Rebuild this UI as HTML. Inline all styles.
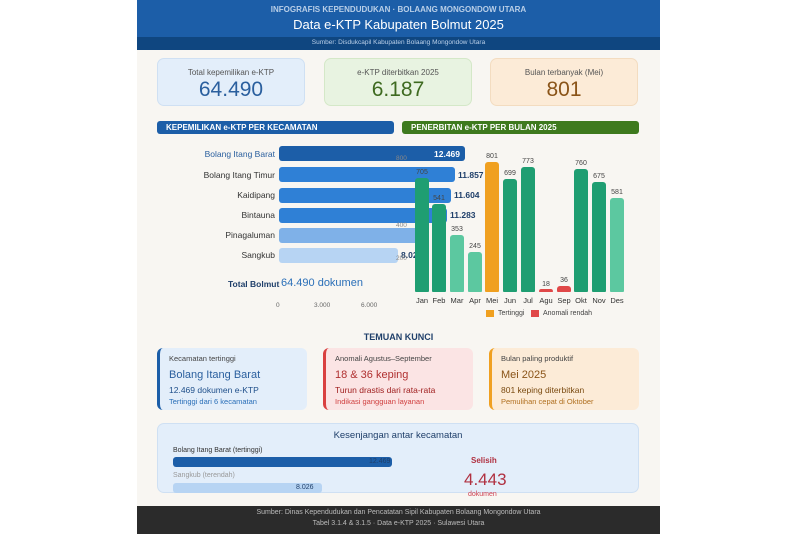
<!DOCTYPE html><html><head><meta charset="utf-8"><style>
*{margin:0;padding:0;box-sizing:border-box}
body{width:800px;height:534px;background:#fff;font-family:"Liberation Sans",sans-serif;position:relative;overflow:hidden}
.a{position:absolute}
.c{text-align:center}
.card{position:absolute;border-radius:7px;text-align:center}
.card .l{font-size:8px;color:#555;margin-top:9px}
.card .v{font-size:21px;margin-top:1px}
.lab{position:absolute;right:525px;font-size:8.5px;color:#333;text-align:right;white-space:nowrap}
.bar{position:absolute;left:279px;height:15px;border-radius:3px}
.val{position:absolute;font-size:8.5px;font-weight:bold;color:#1f3f6a}
.mb{position:absolute;width:14px;border-radius:3px 3px 1px 1px}
.mv{position:absolute;font-size:7px;color:#444;width:24px;text-align:center}
.ml{position:absolute;top:296px;font-size:7.5px;color:#333;width:24px;text-align:center}
.f{position:absolute;top:348px;height:62px;width:150px;border-radius:6px;padding:6px 0 0 9px;border-left:3px solid}
.f .t{font-size:7.5px;color:#444}
.f .b{font-size:11px;margin-top:6px}
.f .s{font-size:8.5px;margin-top:4px}
.f .x{font-size:7.5px;margin-top:2px}
</style></head><body>
<div class="a" style="left:137px;top:0;width:523px;height:534px;background:#f8f6f2"></div>
<div class="a" style="left:137px;top:0;width:523px;height:38px;background:#1c5ea8"></div>
<div class="a" style="left:137px;top:37px;width:523px;height:13px;background:#0f4680"></div>
<div class="a c" style="left:137px;top:5px;width:523px;font-size:8px;font-weight:bold;color:#b9cfe8">INFOGRAFIS KEPENDUDUKAN · BOLAANG MONGONDOW UTARA</div>
<div class="a c" style="left:137px;top:17px;width:523px;font-size:13px;color:#fff">Data e-KTP Kabupaten Bolmut 2025</div>
<div class="a c" style="left:137px;top:39px;width:523px;font-size:6.5px;color:#b9cfe8">Sumber: Disdukcapil Kabupaten Bolaang Mongondow Utara</div>

<div class="card" style="left:157px;top:58px;width:148px;height:48px;background:#e3eefa;border:1px solid #cfe0f3"><div class="l">Total kepemilikan e-KTP</div><div class="v" style="color:#2a5f9e">64.490</div></div>
<div class="card" style="left:324px;top:58px;width:148px;height:48px;background:#e8f3e1;border:1px solid #d4e8c8"><div class="l">e-KTP diterbitkan 2025</div><div class="v" style="color:#3e6a20">6.187</div></div>
<div class="card" style="left:490px;top:58px;width:148px;height:48px;background:#fcebd7;border:1px solid #f3dcc0"><div class="l">Bulan terbanyak (Mei)</div><div class="v" style="color:#8a5418">801</div></div>

<div class="a" style="left:157px;top:121px;width:237px;height:13px;background:#1c5ea8;border-radius:3px;color:#fff;font-size:8px;font-weight:bold;padding:2px 0 0 9px">KEPEMILIKAN e-KTP PER KECAMATAN</div>
<div class="a" style="left:402px;top:121px;width:237px;height:13px;background:#3e7a1e;border-radius:3px;color:#fff;font-size:8px;font-weight:bold;padding:2px 0 0 9px">PENERBITAN e-KTP PER BULAN 2025</div>

<div class="lab" style="top:149px;color:#2a5f9e">Bolang Itang Barat</div>
<div class="lab" style="top:170px">Bolang Itang Timur</div>
<div class="lab" style="top:190px">Kaidipang</div>
<div class="lab" style="top:210px">Bintauna</div>
<div class="lab" style="top:230px">Pinagaluman</div>
<div class="lab" style="top:250px">Sangkub</div>
<div class="bar" style="top:146px;width:186px;background:#1c5ea8"></div>
<div class="val" style="left:434px;top:149px;color:#fff">12.469</div>
<div class="bar" style="top:167px;width:176px;background:#2f80d6"></div>
<div class="val" style="left:458px;top:170px">11.857</div>
<div class="bar" style="top:188px;width:172px;background:#2f80d6"></div>
<div class="val" style="left:454px;top:190px">11.604</div>
<div class="bar" style="top:208px;width:168px;background:#2f80d6"></div>
<div class="val" style="left:450px;top:210px">11.283</div>
<div class="bar" style="top:228px;width:145px;background:#7fb1e8"></div>
<div class="bar" style="top:248px;width:119px;background:#b7d4f3"></div>
<div class="val" style="left:401px;top:250px">8.026</div>
<div class="a" style="left:228px;top:279px;font-size:8.5px;font-weight:bold;color:#1f3f6a">Total Bolmut</div>
<div class="a" style="left:281px;top:277px;font-size:11px;color:#2a6fb8">64.490 dokumen</div>
<div class="a" style="left:276px;top:302px;font-size:6.5px;color:#666">0</div>
<div class="a" style="left:314px;top:302px;font-size:6.5px;color:#666">3.000</div>
<div class="a" style="left:361px;top:302px;font-size:6.5px;color:#666">6.000</div>
<div class="a" style="left:396px;top:155px;font-size:6.5px;color:#888">800</div>
<div class="a" style="left:396px;top:222px;font-size:6.5px;color:#888">400</div>
<div class="a" style="left:396px;top:255px;font-size:6.5px;color:#888">200</div>

<div class="mb" style="left:415px;top:178px;height:114px;background:#1f9e72"></div><div class="mv" style="left:410px;top:169px">705</div>
<div class="mb" style="left:432px;top:204px;height:88px;background:#1f9e72"></div><div class="mv" style="left:427px;top:195px">541</div>
<div class="mb" style="left:450px;top:235px;height:57px;background:#5cc8a0"></div><div class="mv" style="left:445px;top:226px">353</div>
<div class="mb" style="left:468px;top:252px;height:40px;background:#5cc8a0"></div><div class="mv" style="left:463px;top:243px">245</div>
<div class="mb" style="left:485px;top:162px;height:130px;background:#f0a020"></div><div class="mv" style="left:480px;top:153px">801</div>
<div class="mb" style="left:503px;top:179px;height:113px;background:#1f9e72"></div><div class="mv" style="left:498px;top:170px">699</div>
<div class="mb" style="left:521px;top:167px;height:125px;background:#1f9e72"></div><div class="mv" style="left:516px;top:158px">773</div>
<div class="mb" style="left:539px;top:289px;height:3px;background:#e04848"></div><div class="mv" style="left:534px;top:281px">18</div>
<div class="mb" style="left:557px;top:286px;height:6px;background:#e04848"></div><div class="mv" style="left:552px;top:277px">36</div>
<div class="mb" style="left:574px;top:169px;height:123px;background:#1f9e72"></div><div class="mv" style="left:569px;top:160px">760</div>
<div class="mb" style="left:592px;top:182px;height:110px;background:#1f9e72"></div><div class="mv" style="left:587px;top:173px">675</div>
<div class="mb" style="left:610px;top:198px;height:94px;background:#5cc8a0"></div><div class="mv" style="left:605px;top:189px">581</div>
<div class="ml" style="left:410px">Jan</div><div class="ml" style="left:427px">Feb</div><div class="ml" style="left:445px">Mar</div><div class="ml" style="left:463px">Apr</div><div class="ml" style="left:480px">Mei</div><div class="ml" style="left:498px">Jun</div><div class="ml" style="left:516px">Jul</div><div class="ml" style="left:534px">Agu</div><div class="ml" style="left:552px">Sep</div><div class="ml" style="left:569px">Okt</div><div class="ml" style="left:587px">Nov</div><div class="ml" style="left:605px">Des</div>
<div class="a" style="left:486px;top:310px;width:8px;height:7px;background:#f0a020"></div>
<div class="a" style="left:498px;top:310px;font-size:7px;color:#444">Tertinggi</div>
<div class="a" style="left:531px;top:310px;width:8px;height:7px;background:#e04848"></div>
<div class="a" style="left:543px;top:310px;font-size:7px;color:#444">Anomali rendah</div>

<div class="a c" style="left:137px;top:332px;width:523px;font-size:9px;font-weight:bold;color:#1f3f6a">TEMUAN KUNCI</div>
<div class="f" style="left:157px;background:#e3eefa;border-color:#1c5ea8"><div class="t">Kecamatan tertinggi</div><div class="b" style="color:#2a5f9e">Bolang Itang Barat</div><div class="s" style="color:#1f4f8a">12.469 dokumen e-KTP</div><div class="x" style="color:#2a6fb8">Tertinggi dari 6 kecamatan</div></div>
<div class="f" style="left:323px;background:#fbe4e4;border-color:#d94040"><div class="t">Anomali Agustus–September</div><div class="b" style="color:#b03030">18 &amp; 36 keping</div><div class="s" style="color:#a02020">Turun drastis dari rata-rata</div><div class="x" style="color:#d04040">Indikasi gangguan layanan</div></div>
<div class="f" style="left:489px;background:#fcebd7;border-color:#f0a020"><div class="t">Bulan paling produktif</div><div class="b" style="color:#8a5418">Mei 2025</div><div class="s" style="color:#7a4a10">801 keping diterbitkan</div><div class="x" style="color:#b07020">Pemulihan cepat di Oktober</div></div>

<div class="a" style="left:157px;top:423px;width:482px;height:70px;background:#e3eefa;border:1px solid #cfe0f3;border-radius:7px"></div>
<div class="a c" style="left:157px;top:430px;width:482px;font-size:9.5px;color:#1f3f6a">Kesenjangan antar kecamatan</div>
<div class="a" style="left:173px;top:447px;font-size:7px;color:#333">Bolang Itang Barat (tertinggi)</div>
<div class="a" style="left:173px;top:457px;width:219px;height:10px;background:#1c5ea8;border-radius:3px"></div>
<div class="a" style="left:369px;top:458px;font-size:7px;color:#1f3f6a">12.469</div>
<div class="a" style="left:173px;top:472px;font-size:7px;color:#999">Sangkub (terendah)</div>
<div class="a" style="left:173px;top:483px;width:149px;height:10px;background:#b7d4f3;border-radius:3px"></div>
<div class="a" style="left:296px;top:484px;font-size:7px;color:#1f3f6a">8.026</div>
<div class="a" style="left:471px;top:456px;font-size:8px;font-weight:bold;color:#b03040">Selisih</div>
<div class="a" style="left:464px;top:470px;font-size:17px;color:#b03040">4.443</div>
<div class="a" style="left:468px;top:491px;font-size:7px;color:#d04050">dokumen</div>

<div class="a" style="left:137px;top:506px;width:523px;height:28px;background:#2b2b2b"></div>
<div class="a c" style="left:137px;top:509px;width:523px;font-size:7px;color:#bbb">Sumber: Dinas Kependudukan dan Pencatatan Sipil Kabupaten Bolaang Mongondow Utara</div>
<div class="a c" style="left:137px;top:520px;width:523px;font-size:7px;color:#bbb">Tabel 3.1.4 &amp; 3.1.5 · Data e-KTP 2025 · Sulawesi Utara</div>
</body></html>
